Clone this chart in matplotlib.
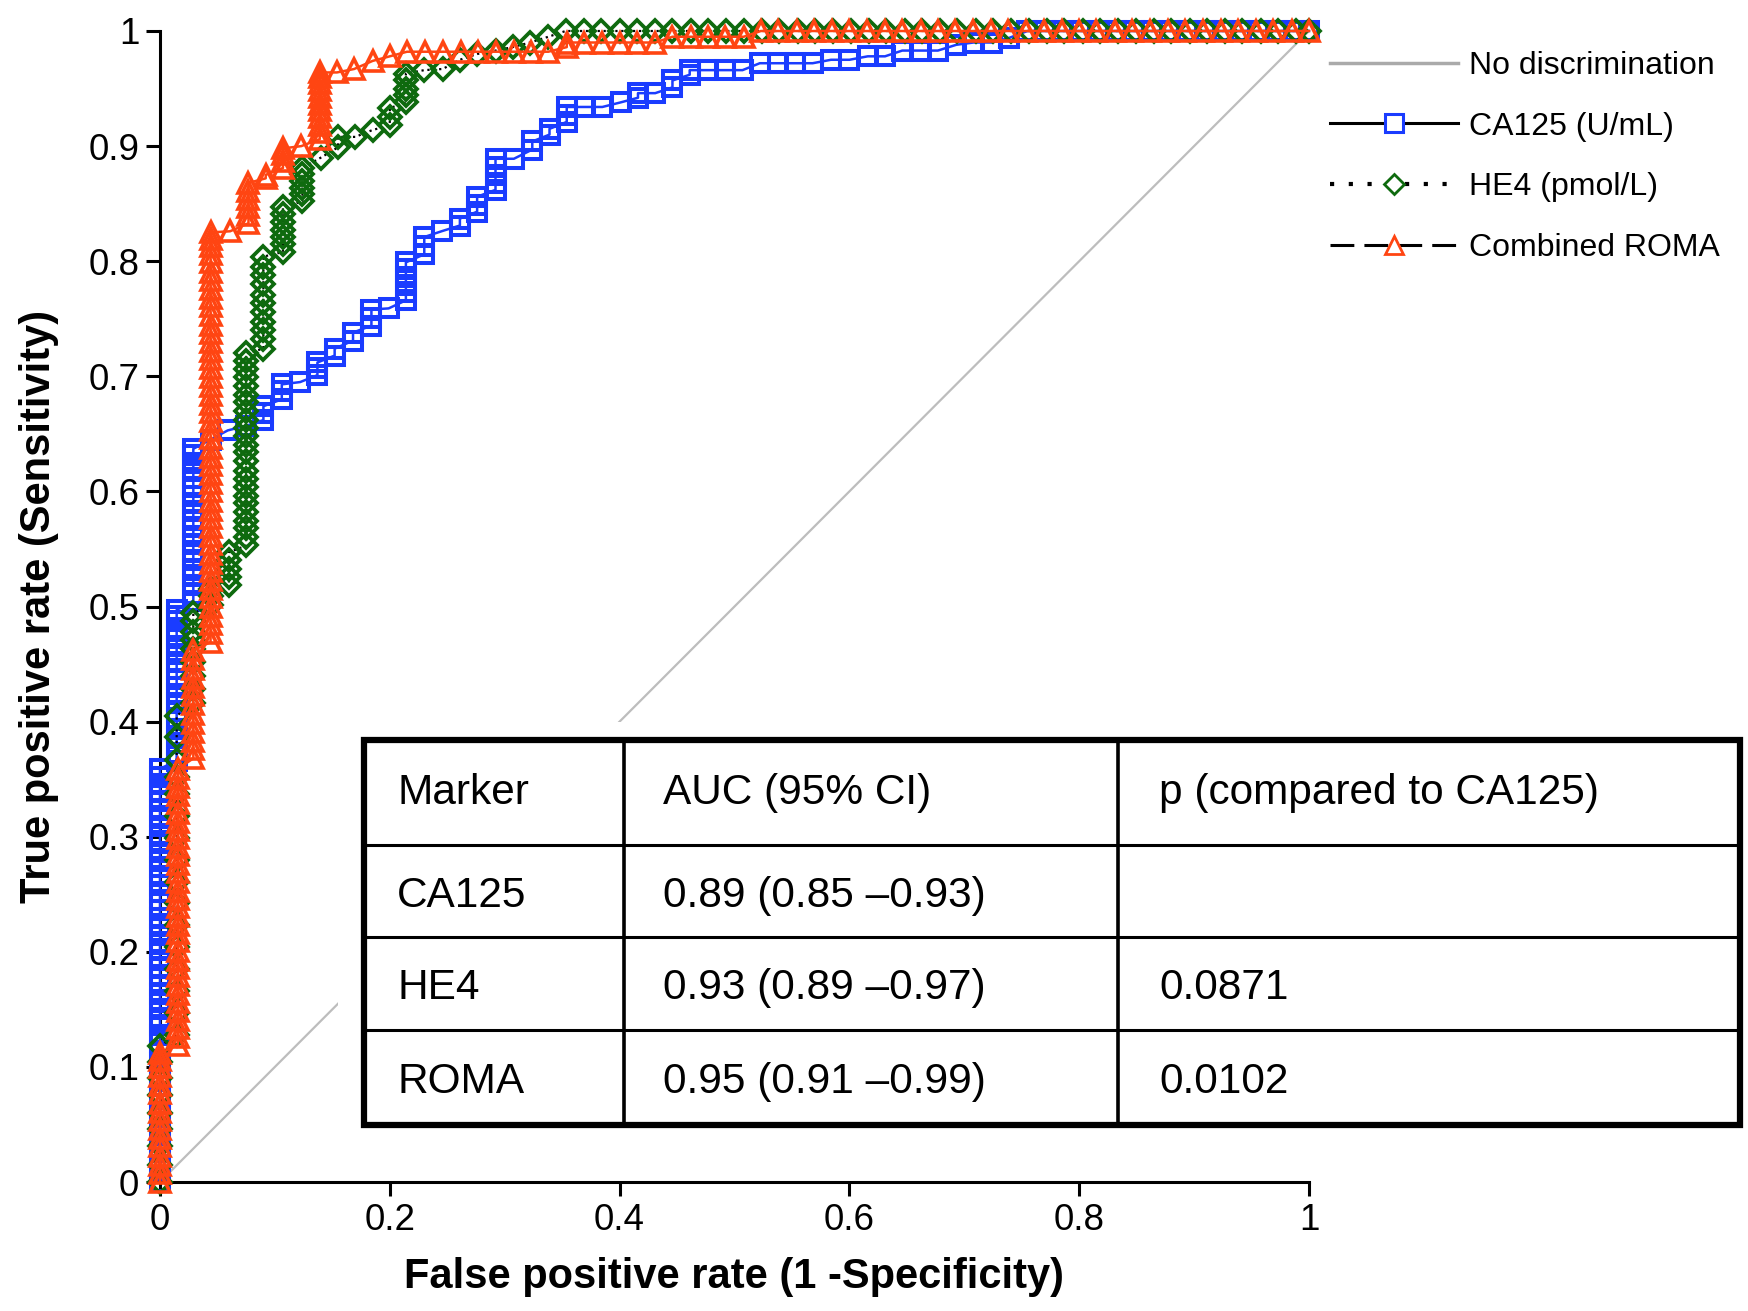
import matplotlib
matplotlib.use("Agg")
import matplotlib.pyplot as plt
from matplotlib.lines import Line2D
from matplotlib.patches import Rectangle

plt.rcParams["font.family"] = ["Liberation Sans", "DejaVu Sans"]

# ROC curves: each false positive rate step and the sensitivities stacked at that step
ca125_fpr = [0.000, 0.0145, 0.029, 0.044, 0.059, 0.075, 0.090, 0.106, 0.122, 0.137,
             0.152, 0.168, 0.184, 0.199, 0.214, 0.230, 0.245, 0.261, 0.276, 0.292,
             0.308, 0.324, 0.339, 0.354, 0.370, 0.385, 0.401, 0.416, 0.431, 0.446,
             0.461, 0.477, 0.492, 0.507, 0.522, 0.538, 0.553, 0.568, 0.584, 0.600,
             0.616, 0.631, 0.646, 0.662, 0.677, 0.693, 0.708, 0.724, 0.739, 0.755,
             0.770, 0.786, 0.801, 0.817, 0.832, 0.848, 0.863, 0.879, 0.894, 0.910,
             0.925, 0.941, 0.956, 0.972, 0.987, 1.000]
ca125_tpr = [
    [0.000, 0.010, 0.021, 0.030, 0.041, 0.052, 0.061, 0.072, 0.083, 0.092, 0.103, 0.114,
     0.122, 0.128, 0.136, 0.141, 0.150, 0.158, 0.163, 0.171, 0.180, 0.186, 0.193, 0.202,
     0.207, 0.215, 0.224, 0.229, 0.236, 0.245, 0.252, 0.258, 0.266, 0.274, 0.279, 0.287,
     0.296, 0.301, 0.309, 0.318, 0.323, 0.331, 0.340, 0.346, 0.352, 0.359],
    [0.366, 0.373, 0.381, 0.386, 0.394, 0.403, 0.409, 0.416, 0.424, 0.430, 0.437, 0.446,
     0.452, 0.459, 0.466, 0.473, 0.479, 0.487, 0.492, 0.497],
    [0.505, 0.511, 0.519, 0.527, 0.532, 0.540, 0.548, 0.554, 0.561, 0.569, 0.575, 0.583,
     0.590, 0.596, 0.604, 0.612, 0.618, 0.625, 0.632, 0.637],
    [0.645], [0.653], [0.657], [0.662, 0.668, 0.674], [0.680, 0.687, 0.693], [0.695],
    [0.701, 0.707, 0.712], [0.718, 0.724], [0.731, 0.738], [0.744, 0.751, 0.758], [0.759],
    [0.766, 0.773, 0.779, 0.786, 0.793, 0.799], [0.806, 0.813, 0.821], [0.826],
    [0.831, 0.837], [0.843, 0.849, 0.856], [0.862, 0.868, 0.875, 0.882, 0.889],
    [0.889], [0.897, 0.904], [0.910, 0.915], [0.921, 0.927, 0.934], [0.934], [0.934],
    [0.938], [0.942, 0.946], [0.946], [0.951, 0.957], [0.962, 0.966], [0.966], [0.966],
    [0.966], [0.972], [0.972], [0.972], [0.972], [0.975], [0.975], [0.978], [0.978],
    [0.983], [0.983], [0.983], [0.988], [0.990], [0.990], [0.994], [1.0],
    [1.0], [1.0], [1.0], [1.0], [1.0], [1.0], [1.0], [1.0], [1.0], [1.0],
    [1.0], [1.0], [1.0], [1.0], [1.0], [1.0],
]

he4_fpr = [0.000, 0.0145, 0.029, 0.044, 0.060, 0.075, 0.090, 0.107, 0.124, 0.140,
           0.155, 0.170, 0.185, 0.200, 0.214, 0.230, 0.246, 0.261, 0.276, 0.292,
           0.307, 0.322, 0.338, 0.353, 0.369, 0.384, 0.400, 0.415, 0.431, 0.446,
           0.462, 0.477, 0.493, 0.508, 0.524, 0.539, 0.555, 0.570, 0.586, 0.601,
           0.617, 0.632, 0.648, 0.663, 0.679, 0.694, 0.710, 0.725, 0.741, 0.756,
           0.772, 0.787, 0.803, 0.818, 0.834, 0.849, 0.865, 0.880, 0.896, 0.911,
           0.927, 0.942, 0.958, 0.973, 0.989, 1.000]
he4_tpr = [
    [0.000, 0.015, 0.031, 0.046, 0.060, 0.076, 0.090, 0.104, 0.118],
    [0.128, 0.147, 0.166, 0.185, 0.204, 0.223, 0.242, 0.261, 0.280, 0.299, 0.318, 0.337,
     0.352, 0.367, 0.387, 0.405],
    [0.416, 0.428, 0.440, 0.452, 0.463, 0.471, 0.478, 0.487, 0.494],
    [0.501, 0.509, 0.515],
    [0.519, 0.526, 0.533, 0.540, 0.547],
    [0.553, 0.560, 0.568, 0.574, 0.582, 0.590, 0.596, 0.604, 0.611, 0.618, 0.626, 0.634,
     0.640, 0.648, 0.655, 0.662, 0.670, 0.678, 0.684, 0.692, 0.699, 0.706, 0.713, 0.720],
    [0.724, 0.732, 0.740, 0.747, 0.756, 0.764, 0.771, 0.780, 0.788, 0.795, 0.804],
    [0.808, 0.815, 0.821, 0.827, 0.834, 0.841, 0.847],
    [0.852, 0.858, 0.864, 0.870, 0.876, 0.881],
    [0.890], [0.899, 0.908], [0.908], [0.914], [0.918, 0.925, 0.933],
    [0.938, 0.944, 0.950, 0.957, 0.963], [0.966], [0.967], [0.975], [0.980], [0.983],
    [0.986], [0.990], [0.995], [1.0],
    [1.0], [1.0], [1.0], [1.0], [1.0], [1.0], [1.0], [1.0], [1.0], [1.0],
    [1.0], [1.0], [1.0], [1.0], [1.0], [1.0], [1.0], [1.0], [1.0], [1.0],
    [1.0], [1.0], [1.0], [1.0], [1.0], [1.0], [1.0], [1.0], [1.0], [1.0],
    [1.0], [1.0], [1.0], [1.0], [1.0], [1.0], [1.0], [1.0], [1.0], [1.0],
    [1.0], [1.0],
]

roma_fpr = [0.000, 0.0155, 0.029, 0.044, 0.061, 0.077, 0.092, 0.107, 0.123, 0.139,
            0.154, 0.169, 0.185, 0.200, 0.215, 0.231, 0.246, 0.262, 0.277, 0.292,
            0.308, 0.323, 0.338, 0.354, 0.369, 0.385, 0.400, 0.415, 0.431, 0.446,
            0.462, 0.477, 0.492, 0.508, 0.523, 0.538, 0.554, 0.569, 0.585, 0.600,
            0.615, 0.631, 0.646, 0.662, 0.677, 0.692, 0.708, 0.723, 0.738, 0.754,
            0.769, 0.785, 0.800, 0.815, 0.831, 0.846, 0.862, 0.877, 0.892, 0.908,
            0.923, 0.938, 0.954, 0.969, 0.985, 1.000]
roma_tpr = [
    [0.000, 0.008, 0.015, 0.023, 0.031, 0.038, 0.046, 0.054, 0.061, 0.069, 0.077, 0.084,
     0.092, 0.100, 0.106, 0.112],
    [0.119, 0.126, 0.134, 0.141, 0.149, 0.156, 0.163, 0.171, 0.179, 0.186, 0.193, 0.201,
     0.209, 0.216, 0.223, 0.231, 0.239, 0.246, 0.253, 0.261, 0.269, 0.276, 0.284, 0.291,
     0.299, 0.306, 0.313, 0.321, 0.329, 0.336, 0.343, 0.351, 0.359],
    [0.368, 0.376, 0.383, 0.391, 0.399, 0.407, 0.415, 0.423, 0.430, 0.438, 0.446, 0.454,
     0.462],
    [0.469, 0.477, 0.485, 0.492, 0.500, 0.508, 0.515, 0.523, 0.531, 0.538, 0.546, 0.554,
     0.561, 0.569, 0.577, 0.584, 0.592, 0.600, 0.607, 0.615, 0.623, 0.630, 0.638, 0.646,
     0.653, 0.661, 0.669, 0.676, 0.684, 0.692, 0.699, 0.707, 0.715, 0.722, 0.730, 0.738,
     0.745, 0.753, 0.761, 0.768, 0.776, 0.784, 0.791, 0.799, 0.806, 0.813, 0.819, 0.825],
    [0.826], [0.833, 0.840, 0.847, 0.854, 0.861, 0.868], [0.872, 0.875],
    [0.881, 0.887, 0.893, 0.898], [0.900],
    [0.906, 0.912, 0.918, 0.925, 0.931, 0.937, 0.943, 0.949, 0.955, 0.960, 0.964],
    [0.964], [0.967], [0.974], [0.978],
    [0.982], [0.982], [0.982], [0.982], [0.982], [0.982], [0.982], [0.982], [0.982],
    [0.986, 0.990], [0.990], [0.990], [0.990], [0.990], [0.990],
    [0.995], [0.995], [0.995], [0.995], [0.995],
    [1.0], [1.0], [1.0], [1.0], [1.0], [1.0], [1.0], [1.0], [1.0], [1.0],
    [1.0], [1.0], [1.0], [1.0], [1.0], [1.0], [1.0], [1.0], [1.0], [1.0],
    [1.0], [1.0], [1.0], [1.0], [1.0], [1.0], [1.0], [1.0], [1.0], [1.0],
    [1.0], [1.0],
]

x_ticks = [0, 0.2, 0.4, 0.6, 0.8, 1]
x_ticklabels = ["0", "0.2", "0.4", "0.6", "0.8", "1"]
y_ticks = [0, 0.1, 0.2, 0.3, 0.4, 0.5, 0.6, 0.7, 0.8, 0.9, 1]
y_ticklabels = ["0", "0.1", "0.2", "0.3", "0.4", "0.5", "0.6", "0.7", "0.8", "0.9", "1"]

legend_labels = ["No discrimination", "CA125 (U/mL)", "HE4 (pmol/L)", "Combined ROMA"]

table_header = ["Marker", "AUC (95% CI)", "p (compared to CA125)"]
table_marker = ["CA125", "HE4", "ROMA"]
table_auc = ["0.89 (0.85 \u20130.93)", "0.93 (0.89 \u20130.97)", "0.95 (0.91 \u20130.99)"]
table_p = ["", "0.0871", "0.0102"]

blue = "#1a3cff"
green = "#0e6a0e"
orange = "#ff4512"


def expand(cols, runs):
    assert len(cols) == len(runs)
    xs, ys = [], []
    for c, r in zip(cols, runs):
        xs += [c] * len(r)
        ys += r
    return xs, ys


fig = plt.figure(figsize=(17.48, 13.11), dpi=100)
ax = fig.add_axes([160 / 1748, 1 - 1182 / 1311, 1149 / 1748, 1151 / 1311])

# chance line
ax.plot([0, 1], [0, 1], color="#bdbdbd", lw=1.6, zorder=1)

x, y = expand(ca125_fpr, ca125_tpr)
ax.plot(x, y, color=blue, lw=1.8, marker="s", ms=13.5, mfc="none", mec=blue,
        mew=2.9, clip_on=False, zorder=3)

x, y = expand(he4_fpr, he4_tpr)
ax.plot(x, y, color="black", lw=1.6, ls=":", clip_on=False, zorder=3.1)
ax.plot(x, y, ls="none", marker="D", ms=11, mfc="none", mec=green, mew=2.7,
        clip_on=False, zorder=3.2)

x, y = expand(roma_fpr, roma_tpr)
ax.plot(x, y, color=orange, lw=1.8, marker="^", ms=14, mfc="none", mec=orange,
        mew=2.6, clip_on=False, zorder=3.3)

ax.set_xlim(0, 1)
ax.set_ylim(0, 1)
ax.set_xticks(x_ticks)
ax.set_xticklabels(x_ticklabels)
ax.set_yticks(y_ticks)
ax.set_yticklabels(y_ticklabels)
for s in ["top", "right"]:
    ax.spines[s].set_visible(False)
for s in ["left", "bottom"]:
    ax.spines[s].set_linewidth(2.2)
ax.tick_params(direction="out", length=10, width=2.2, labelsize=26.5, pad=5)

ax.set_xlabel("False positive rate (1 -Specificity)", fontsize=30, fontweight="bold")
ax.set_ylabel("True positive rate (Sensitivity)", fontsize=30, fontweight="bold")
ax.xaxis.set_label_coords(0.5, -0.065)
ax.yaxis.set_label_coords(-0.088, 0.5)

# legend (black lines, coloured markers)
handles = [
    Line2D([], [], color="#aaaaaa", lw=2.5),
    Line2D([], [], color="black", lw=2.2, marker="s", ms=13, mfc="white", mec=blue, mew=2.2),
    Line2D([], [], color="black", lw=3, ls=(0, (1, 3.5)), marker="D", ms=10,
           mfc="white", mec=green, mew=2),
    Line2D([], [], color="black", lw=2.2, ls=(0, (7.8, 3.3)), marker="^", ms=13,
           mfc="white", mec=orange, mew=2),
]
fig.legend(handles, legend_labels, loc="upper left", bbox_to_anchor=(1330 / 1748, 1 - 51 / 1311),
           frameon=False, borderpad=0, borderaxespad=0, handlelength=4.0,
           handletextpad=0.34, labelspacing=0.96, fontsize=23, numpoints=1)

# AUC table inside the axes
col_edges = [0.1775, 0.4038, 0.8338, 1.3751]
row_edges = [0.3840, 0.2928, 0.2129, 0.1321, 0.0495]
text_offsets = [0.029, 0.034, 0.036]
tr = ax.transAxes
ax.add_patch(Rectangle((0.155, 0.035), 1.25, 0.365, transform=tr, fc="white",
                       ec="none", zorder=4, clip_on=False))
ax.add_patch(Rectangle((col_edges[0], row_edges[-1]), col_edges[-1] - col_edges[0],
                       row_edges[0] - row_edges[-1], transform=tr, fc="none",
                       ec="black", lw=4.5, zorder=6, clip_on=False))
for ye in row_edges[1:-1]:
    ax.plot([col_edges[0], col_edges[-1]], [ye, ye], transform=tr, color="black",
            lw=2.2, zorder=5, clip_on=False, solid_capstyle="butt")
for xe in col_edges[1:-1]:
    ax.plot([xe, xe], [row_edges[-1], row_edges[0]], transform=tr, color="black",
            lw=2.6, zorder=5, clip_on=False, solid_capstyle="butt")

rows = [table_header] + [[m, a, p] for m, a, p in zip(table_marker, table_auc, table_p)]
for i, row in enumerate(rows):
    yc = (row_edges[i] + row_edges[i + 1]) / 2 - (0.0 if i == 0 else 0.004)
    for j, txt in enumerate(row):
        ax.text(col_edges[j] + text_offsets[j], yc, txt, transform=tr, fontsize=30.5,
                ha="left", va="center", zorder=7, clip_on=False)

fig.savefig("out.png", dpi=100)
